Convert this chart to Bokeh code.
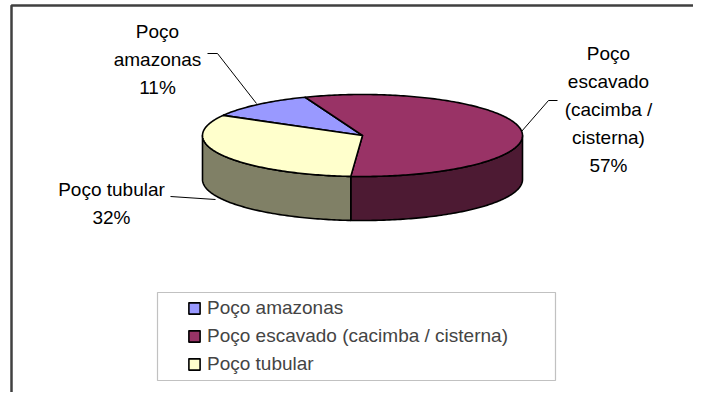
import numpy as np
from bokeh.plotting import figure
from bokeh.models import Range1d, Legend, LegendItem, BoxAnnotation, ColumnDataSource
from bokeh.core.properties import value
from bokeh.embed import file_html
from bokeh.resources import INLINE

# ---- data ----
categories = ["Poço amazonas", "Poço escavado (cacimba / cisterna)", "Poço tubular"]
values = [11, 57, 32]
label_lines = [["Poço", "amazonas"], ["Poço", "escavado", "(cacimba /", "cisterna)"], ["Poço tubular"]]
top_colors = ["#9999FF", "#993366", "#FFFFCC"]
side_colors = ["#4C4C80", "#4D1A33", "#808066"]

# ---- layout ----
FONT = "Liberation Sans"
W, H = 693, 392
p = figure(width=W, height=H, x_range=Range1d(0, W), y_range=Range1d(H, 0),
           output_backend="svg", toolbar_location=None, min_border=0,
           x_axis_location=None, y_axis_location=None, outline_line_color=None)
p.grid.visible = False
p.background_fill_color = "white"
p.border_fill_color = "white"

# outer chart border (right/bottom edges fall outside the picture)
p.line([11, 11, 760], [460, 5, 5], line_color="#404040", line_width=2.5)

# pie geometry
cx, cy, a, b, depth = 362, 135, 160, 41, 44
start = -60.6  # degrees clockwise from 12 o'clock

total = float(sum(values))
spans = [v / total * 360.0 for v in values]
bounds = start + np.concatenate([[0.0], np.cumsum(spans)])


def arc(t0, t1, dy=0.0):
    t = np.radians(np.linspace(t0, t1, max(int(abs(t1 - t0)) + 2, 3)))
    return list(cx + a * np.sin(t)), list(cy - b * np.cos(t) + dy)


# side walls (visible front half: 90..270 deg clockwise from top)
wx, wy, wc = [], [], []
for i in range(len(values)):
    for shift in (-360, 0, 360):
        lo = max(bounds[i] + shift, 90)
        hi = min(bounds[i + 1] + shift, 270)
        if hi > lo:
            tx, ty = arc(lo, hi)
            bx, by = arc(hi, lo, dy=depth)
            wx.append(tx + bx)
            wy.append(ty + by)
            wc.append(side_colors[i])
p.patches(wx, wy, fill_color=wc, line_color="black", line_width=1.6, line_join="round")

# top faces
txs, tys = [], []
for i in range(len(values)):
    ax_, ay_ = arc(bounds[i], bounds[i + 1])
    txs.append([cx] + ax_)
    tys.append([cy] + ay_)
src = ColumnDataSource(dict(xs=txs, ys=tys, color=top_colors, name=categories))
top_r = p.patches("xs", "ys", source=src, fill_color="color", line_color="black",
                  line_width=1.6, line_join="round")

# data labels
pcts = [f"{v / total * 100:.0f}%" for v in values]
label_anchor = [(157, 31), (608, 53), (111, 189)]
lx, ly, lt = [], [], []
for i in range(len(values)):
    lines = label_lines[i] + [pcts[i]]
    x0, y0 = label_anchor[i]
    for k, s in enumerate(lines):
        lx.append(x0)
        ly.append(y0 + 28 * k)
        lt.append(s)
p.text(lx, ly, text=lt, text_font=value(FONT), text_font_size="19px",
       text_align="center", text_baseline="alphabetic", text_color="black")

# leader lines
p.multi_line([[207, 217, 256], [557, 548, 521], [170, 215]],
             [[53, 53, 103], [100, 100, 131], [196, 199]],
             line_color="black", line_width=1)

# legend box + legend
p.add_layout(BoxAnnotation(left=157, right=555, top=292, bottom=380, fill_color="white",
                           fill_alpha=1, line_color="#333333", line_width=1.2))
items = [LegendItem(label=categories[i], renderers=[top_r], index=i) for i in range(len(values))]
legend = Legend(items=items, location=(185, 12), padding=2, spacing=0, label_height=28,
                glyph_width=14, glyph_height=14, label_standoff=6, margin=0,
                label_text_font=FONT, label_text_font_size="19px",
                border_line_alpha=0, background_fill_alpha=0)
p.add_layout(legend)

open("out.html", "w").write(file_html(p, INLINE))
